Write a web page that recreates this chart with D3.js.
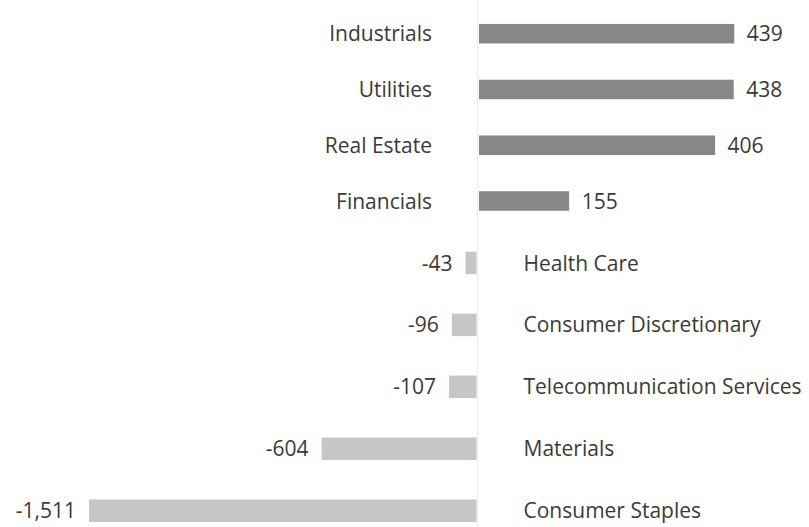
<!DOCTYPE html>
<html>
<head>
<meta charset="utf-8">
<script src="https://cdn.jsdelivr.net/npm/d3@7"></script>
<style>
  html, body { margin: 0; padding: 0; background: #ffffff; }
  svg { display: block; }
  text { font-family: "Open Sans", Lato, sans-serif; fill: #3a3a3a; }
</style>
</head>
<body>
<svg id="chart" width="809" height="527"></svg>
<script>
// ---- data ----
const categories = ["Industrials", "Utilities", "Real Estate", "Financials",
  "Health Care", "Consumer Discretionary", "Telecommunication Services",
  "Materials", "Consumer Staples"];
const values = [439, 438, 406, 155, -43, -96, -107, -604, -1511];

const width = 809, height = 527;
const svg = d3.select("#chart");

// separate scales for the positive and negative sides (as in the original)
const xPos = d3.scaleLinear().domain([0, 439]).range([479, 734.3]);
const xNeg = d3.scaleLinear().domain([-1511, 0]).range([89, 476.5]);
// row positions (top group slightly tighter than bottom group)
const yRow = d3.scaleLinear().domain([0, 3, 8]).range([33.7, 201, 510.7]);

const fmt = v => d3.format(",")(v).replace("\u2212", "-");
const fontSize = 21;

const data = categories.map((c, i) => ({ cat: c, val: values[i], i }));

// zero line
svg.append("line")
  .attr("x1", 477.5).attr("x2", 477.5)
  .attr("y1", 0).attr("y2", height)
  .attr("stroke", "#ececec").attr("stroke-width", 1);

const g = svg.append("g");

const barH = d => d.val >= 0 ? 19.5 : 22.5;

g.selectAll("rect.bar")
  .data(data)
  .join("rect")
  .attr("class", "bar")
  .attr("x", d => d.val >= 0 ? xPos(0) : xNeg(d.val))
  .attr("width", d => d.val >= 0 ? xPos(d.val) - xPos(0) : xNeg(0) - xNeg(d.val))
  .attr("y", d => yRow(d.i) - barH(d) / 2)
  .attr("height", barH)
  .attr("fill", d => d.val >= 0 ? "#87878a" : "#c6c6c8");

// value labels
g.selectAll("text.val")
  .data(data)
  .join("text")
  .attr("class", "val")
  .attr("x", d => d.val >= 0 ? xPos(d.val) + 12.5 : xNeg(d.val) - 13)
  .attr("y", d => yRow(d.i))
  .attr("dy", "0.36em")
  .attr("text-anchor", d => d.val >= 0 ? "start" : "end")
  .style("font-size", fontSize + "px")
  .text(d => fmt(d.val));

// category labels
g.selectAll("text.cat")
  .data(data)
  .join("text")
  .attr("class", "cat")
  .attr("x", d => d.val >= 0 ? 432 : 523.5)
  .attr("y", d => yRow(d.i))
  .attr("dy", "0.36em")
  .attr("text-anchor", d => d.val >= 0 ? "end" : "start")
  .style("font-size", fontSize + "px")
  .text(d => d.cat);
</script>
</body>
</html>
